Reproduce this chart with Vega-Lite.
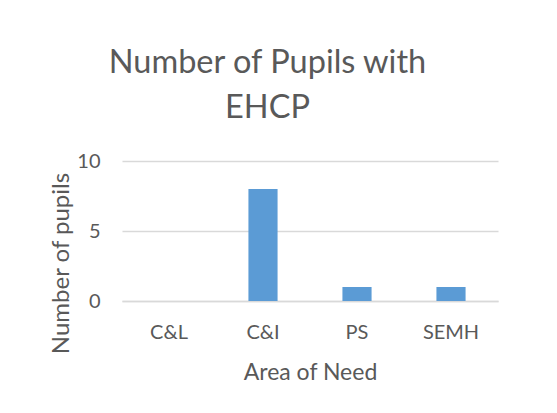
{
  "$schema": "https://vega.github.io/schema/vega-lite/v6.json",
  "autosize": {"type": "none"},
  "width": 376,
  "height": 140,
  "padding": {"left": 122, "top": 161, "right": 59, "bottom": 112},
  "background": "white",
  "title": {
    "text": ["Number of Pupils with", "EHCP"],
    "font": "Lato",
    "fontSize": 32.5,
    "fontWeight": "normal",
    "color": "#595959",
    "lineHeight": 45.6,
    "anchor": "middle",
    "frame": "group",
    "baseline": "alphabetic",
    "dx": -42.5,
    "offset": 0
  },
  "data": {
    "values": [
      {"area": "C&L", "pupils": 0},
      {"area": "C&I", "pupils": 8},
      {"area": "PS", "pupils": 1},
      {"area": "SEMH", "pupils": 1}
    ]
  },
  "mark": {"type": "bar", "color": "#5b9bd5"},
  "encoding": {
    "x": {
      "field": "area",
      "type": "nominal",
      "sort": null,
      "scale": {"paddingInner": 0.69, "paddingOuter": 0.345},
      "axis": {
        "title": "Area of Need",
        "labelAngle": 0,
        "labelFont": "Lato",
        "labelFontSize": 20,
        "labelColor": "#595959",
        "labelBaseline": "alphabetic",
        "labelPadding": 37.5,
        "ticks": false,
        "tickSize": 0,
        "domainColor": "#d9d9d9",
        "domainWidth": 1.3,
        "titleFont": "Lato",
        "titleFontSize": 23,
        "titleFontWeight": "normal",
        "titleColor": "#595959",
        "titleBaseline": "alphabetic",
        "titleY": 78.6,
        "titleX": 188
      }
    },
    "y": {
      "field": "pupils",
      "type": "quantitative",
      "scale": {"domain": [0, 10]},
      "axis": {
        "title": "Number of pupils",
        "values": [0, 5, 10],
        "labelFont": "Lato",
        "labelFontSize": 20,
        "labelColor": "#595959",
        "labelPadding": 22,
        "ticks": false,
        "tickSize": 0,
        "domain": false,
        "gridColor": "#d9d9d9",
        "gridWidth": 1.3,
        "titleFont": "Lato",
        "titleFontSize": 24,
        "titleFontWeight": "normal",
        "titleColor": "#595959",
        "titleBaseline": "alphabetic",
        "titleAlign": "center",
        "titleAngle": 270,
        "titleX": -54,
        "titleY": 102
      }
    }
  },
  "config": {"view": {"stroke": null}}
}
